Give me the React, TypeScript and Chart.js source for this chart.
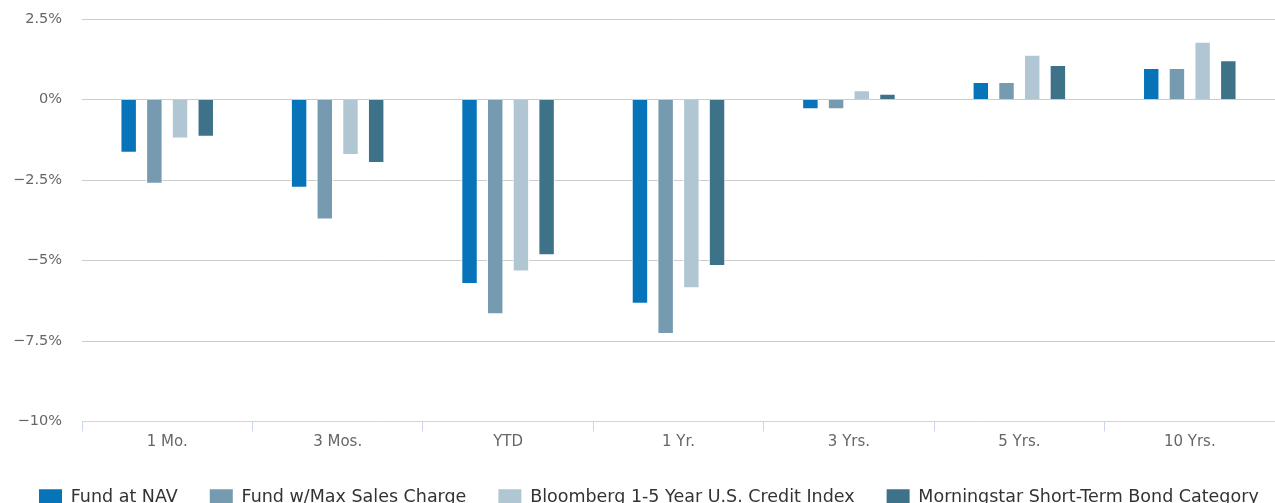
import React, { useEffect, useRef } from "react";
import { Chart, registerables } from "chart.js";

Chart.register(...registerables);

const categories = ["1 Mo.", "3 Mos.", "YTD", "1 Yr.", "3 Yrs.", "5 Yrs.", "10 Yrs."];
const seriesNames = [
  "Fund at NAV",
  "Fund w/Max Sales Charge",
  "Bloomberg 1-5 Year U.S. Credit Index",
  "Morningstar Short-Term Bond Category",
];
const fundAtNav = [-1.65, -2.74, -5.73, -6.34, -0.3, 0.54, 0.98];
const fundMaxSales = [-2.62, -3.73, -6.67, -7.28, -0.3, 0.54, 0.98];
const bloombergIndex = [-1.21, -1.72, -5.34, -5.86, 0.29, 1.39, 1.79];
const morningstarCategory = [-1.16, -1.97, -4.84, -5.17, 0.18, 1.07, 1.22];
const seriesColors = ["#0774b9", "#769aaf", "#b0c7d3", "#3d7289"];
const yMin = -10;
const yMax = 2.5;
const yStep = 2.5;

const FONT = "DejaVu Sans";
const LEGEND_PAD = 32;
const LEGEND_START_X = 39;

// keeps the legend on one row like the original (Chart.js reserves an extra padding when wrapping)
const legendNoWrap = {
  id: "legendNoWrap",
  beforeLayout(chart: any) {
    const lg = chart.legend;
    if (lg && !lg.__patched) {
      const origUpdate = lg.update.bind(lg);
      lg.update = (w: number, h: number, m: any) => origUpdate(w + 2 * LEGEND_PAD, h, m);
      const origDraw = lg.draw.bind(lg);
      lg.draw = () => {
        const { left, right } = lg;
        const lw = lg.lineWidths ? lg.lineWidths[0] : 0;
        const R = right + 2 * LEGEND_PAD;
        lg.right = R;
        lg.left = 2 * LEGEND_START_X - LEGEND_PAD - R + lw;
        origDraw();
        lg.left = left;
        lg.right = right;
      };
      lg.__patched = true;
    }
  },
};

export default function App() {
  const ref = useRef<HTMLCanvasElement | null>(null);
  useEffect(() => {
    if (!ref.current) return;
    const values = [fundAtNav, fundMaxSales, bloombergIndex, morningstarCategory];
    const chart = new Chart(ref.current, {
      type: "bar",
      data: {
        labels: categories,
        datasets: seriesNames.map((name, i) => ({
          label: name,
          data: values[i],
          backgroundColor: seriesColors[i],
          borderColor: "#ffffff",
          borderWidth: 1,
          categoryPercentage: 0.603,
          barPercentage: 0.64,
        })),
      },
      plugins: [legendNoWrap],
      options: {
        animation: false,
        responsive: false,
        maintainAspectRatio: false,
        layout: { padding: { top: 19, left: 0, right: 0, bottom: 0 } },
        plugins: {
          tooltip: { enabled: false },
          legend: {
            position: "bottom",
            labels: {
              font: { family: FONT, size: 17.5 },
              color: "#333333",
              boxWidth: 23,
              boxHeight: 16,
              padding: LEGEND_PAD,
              generateLabels: (c: any) =>
                Chart.defaults.plugins.legend.labels
                  .generateLabels(c)
                  .map((it: any) => ({ ...it, lineWidth: 0, strokeStyle: "transparent" })),
            },
          },
        },
        scales: {
          x: {
            grid: {
              offset: true,
              drawOnChartArea: false,
              drawTicks: true,
              tickLength: 10,
              color: "#ccd6eb",
              lineWidth: 1,
            },
            border: { display: true, color: "#ccd6eb", width: 1 },
            ticks: {
              font: { family: FONT, size: 15 },
              color: "#666666",
              padding: 2,
              maxRotation: 0,
            },
            afterFit: (s: any) => {
              s.height = 35;
            },
          },
          y: {
            min: yMin,
            max: yMax,
            ticks: {
              stepSize: yStep,
              font: { family: FONT, size: 14.5 },
              color: "#666666",
              padding: 20,
              callback: (v: any) => (Number(v) < 0 ? "\u2212" : "") + Math.abs(Number(v)) + "%",
            },
            grid: {
              drawTicks: false,
              color: (ctx: any) => (ctx.tick && ctx.tick.value === yMin ? "rgba(0,0,0,0)" : "#cccccc"),
              lineWidth: 1,
            },
            border: { display: false },
            afterFit: (s: any) => {
              s.width = 82;
              s.paddingTop = 0;
              s.paddingBottom = 0;
            },
          },
        },
      },
    });
    return () => chart.destroy();
  }, []);
  return (
    <div
      style={{
        position: "fixed",
        left: 0,
        top: 0,
        width: 1275,
        height: 503,
        overflow: "hidden",
        background: "#ffffff",
      }}
    >
      <canvas ref={ref} width={1275} height={516} style={{ display: "block", width: 1275, height: 516 }} />
    </div>
  );
}
